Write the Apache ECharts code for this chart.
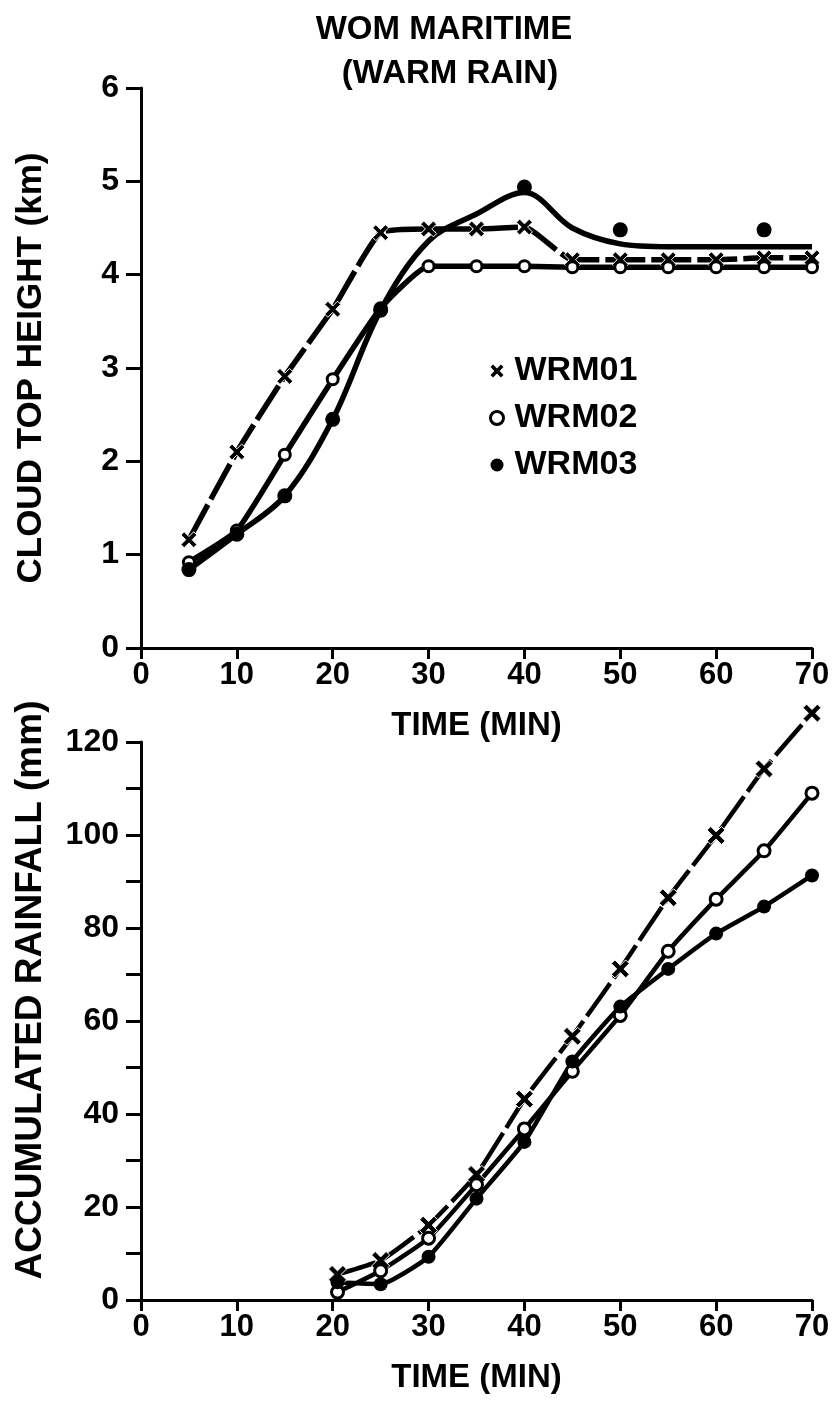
<!DOCTYPE html>
<html>
<head>
<meta charset="utf-8">
<script src="https://cdn.jsdelivr.net/npm/echarts@6/dist/echarts.min.js"></script>
<style>
html,body{margin:0;padding:0;background:#fff;}
#chart{width:837px;height:1402px;}
</style>
</head>
<body>
<div id="chart"></div>
<script>
// ---- Data ----
const seriesNames = ['WRM01', 'WRM02', 'WRM03'];

// Top panel: cloud top height (km) vs time (min)
const topTimes = [5, 10, 15, 20, 25, 30, 35, 40, 45, 50, 55, 60, 65, 70];
const wrm01Height = [1.16, 2.10, 2.91, 3.63, 4.45, 4.49, 4.49, 4.51, 4.16, 4.16, 4.16, 4.16, 4.18, 4.18];
const wrm02Height = [0.92, 1.26, 2.07, 2.88, 3.64, 4.09, 4.09, 4.09, 4.08, 4.08, 4.08, 4.08, 4.08, 4.08];
const wrm03HeightDots = [0.84, 1.22, 1.63, 2.45, 3.62, null, null, 4.94, null, 4.48, null, null, 4.48, null];
// hand-drawn fitted curve for WRM03
const wrm03CurveTimes = [5, 10, 15, 20, 25, 30, 35, 40, 45, 50, 55, 60, 65, 70];
const wrm03CurveHeight = [0.84, 1.22, 1.63, 2.45, 3.62, 4.36, 4.65, 4.88, 4.50, 4.33, 4.30, 4.30, 4.30, 4.30];

// Bottom panel: accumulated rainfall (mm) vs time (min)
const rainTimes = [20.5, 25, 30, 35, 40, 45, 50, 55, 60, 65, 70];
const wrm01Rain = [5.5, 8.5, 16.1, 27.0, 43.2, 56.7, 71.2, 86.5, 99.9, 114.2, 126.2];
const wrm02Rain = [1.7, 6.3, 13.3, 24.8, 36.8, 49.2, 61.2, 75.0, 86.2, 96.6, 109.0];
const wrm03Rain = [3.8, 3.4, 9.3, 21.8, 34.0, 51.3, 63.1, 71.2, 78.8, 84.6, 91.3];

// Axis ticks
const timeTicks = [0, 10, 20, 30, 40, 50, 60, 70];
const heightTicks = [0, 1, 2, 3, 4, 5, 6];
const rainLabelTicks = [0, 20, 40, 60, 80, 100, 120];

// ---- helpers ----
function pairs(xs, ys) {
  const out = [];
  for (let i = 0; i < xs.length; i++) if (ys[i] !== null && ys[i] !== undefined) out.push([xs[i], ys[i]]);
  return out;
}
const FONT = "'Liberation Sans', Arial, sans-serif";
const crossPath = 'path://M2,0 L5,3 L8,0 L10,2 L7,5 L10,8 L8,10 L5,7 L2,10 L0,8 L3,5 L0,2 Z';

const axisLine = { show: true, lineStyle: { color: '#000', width: 3 } };
function xAxis(gridIndex) {
  return {
    type: 'value', gridIndex, min: timeTicks[0], max: timeTicks[timeTicks.length - 1], interval: 10,
    axisLine, splitLine: { show: false },
    axisTick: { show: true, length: 11, lineStyle: { color: '#000', width: 3 } },
    axisLabel: { color: '#000', fontFamily: FONT, fontSize: 31, fontWeight: 'bold', margin: 12,
      formatter: v => timeTicks.indexOf(v) >= 0 ? String(v) : '' },
    name: 'TIME (MIN)', nameLocation: 'middle', nameGap: 61,
    nameTextStyle: { color: '#000', fontFamily: FONT, fontSize: 33, fontWeight: 'bold' }
  };
}

const option = {
  animation: false,
  backgroundColor: '#fff',
  graphic: [
    { type: 'text', x: 444, y: 13, style: { text: 'WOM MARITIME', textAlign: 'center', textVerticalAlign: 'top',
      font: "bold 33px 'Liberation Sans', Arial, sans-serif", fill: '#000' } },
    { type: 'text', x: 450, y: 57, style: { text: '(WARM RAIN)', textAlign: 'center', textVerticalAlign: 'top',
      font: "bold 33px 'Liberation Sans', Arial, sans-serif", fill: '#000' } }
  ],
  legend: {
    show: true, orient: 'vertical', left: 484, top: 349, itemGap: 13, itemWidth: 13, itemHeight: 13,
    textStyle: { color: '#000', fontFamily: FONT, fontSize: 34, fontWeight: 'bold', padding: [0, 0, 0, 6] },
    data: [
      { name: 'WRM01', icon: crossPath, itemStyle: { color: '#000', borderWidth: 0, opacity: 1 } },
      { name: 'WRM02', icon: 'circle', itemStyle: { color: '#fff', borderColor: '#000', borderWidth: 3, opacity: 1 } },
      { name: 'WRM03', icon: 'circle', itemStyle: { color: '#000', borderWidth: 0, opacity: 1 } }
    ]
  },
  grid: [
    { left: 141, right: 25, top: 88, height: 560 },
    { left: 141, right: 25, top: 742, height: 558 }
  ],
  xAxis: [xAxis(0), xAxis(1)],
  yAxis: [
    { type: 'value', gridIndex: 0, min: heightTicks[0], max: heightTicks[heightTicks.length - 1], interval: 1,
      axisLine, splitLine: { show: false },
      axisTick: { show: true, length: 15, lineStyle: { color: '#000', width: 3 } },
      axisLabel: { color: '#000', fontFamily: FONT, fontSize: 32, fontWeight: 'bold', margin: 22,
        formatter: v => heightTicks.indexOf(v) >= 0 ? String(v) : '' },
      name: 'CLOUD TOP HEIGHT (km)', nameLocation: 'middle', nameGap: 92,
      nameTextStyle: { color: '#000', fontFamily: FONT, fontSize: 35, fontWeight: 'bold' } },
    { type: 'value', gridIndex: 1, min: 0, max: 120, interval: 10,
      axisLine, splitLine: { show: false },
      axisTick: { show: true, length: 15, lineStyle: { color: '#000', width: 3 } },
      axisLabel: { color: '#000', fontFamily: FONT, fontSize: 32, fontWeight: 'bold', margin: 22,
        formatter: v => rainLabelTicks.indexOf(v) >= 0 ? String(v) : '' },
      name: 'ACCUMULATED RAINFALL (mm)', nameLocation: 'middle', nameGap: 92,
      nameTextStyle: { color: '#000', fontFamily: FONT, fontSize: 37, fontWeight: 'bold', padding: [0, 0, 0, 62] } }
  ],
  series: [
    // top panel
    { name: 'WRM01', type: 'line', xAxisIndex: 0, yAxisIndex: 0, data: pairs(topTimes, wrm01Height),
      smooth: 0.15, symbol: crossPath, symbolSize: 16, showAllSymbol: true,
      itemStyle: { color: '#000', borderColor: '#fff', borderWidth: 1 },
      lineStyle: { color: '#000', width: 5.5, type: [40, 6] }, z: 3 },
    { name: 'WRM02', type: 'line', xAxisIndex: 0, yAxisIndex: 0, data: pairs(topTimes, wrm02Height),
      smooth: 0.15, symbol: 'circle', symbolSize: 11, showAllSymbol: true,
      itemStyle: { color: '#fff', borderColor: '#000', borderWidth: 3 },
      lineStyle: { color: '#000', width: 5.5 }, z: 3 },
    { name: 'WRM03 curve', type: 'line', xAxisIndex: 0, yAxisIndex: 0, data: pairs(wrm03CurveTimes, wrm03CurveHeight),
      smooth: 0.35, symbol: 'none',
      lineStyle: { color: '#000', width: 5.5 }, z: 2 },
    { name: 'WRM03', type: 'scatter', xAxisIndex: 0, yAxisIndex: 0, data: pairs(topTimes, wrm03HeightDots),
      symbol: 'circle', symbolSize: 15, itemStyle: { color: '#000', opacity: 1 }, z: 4 },
    // bottom panel
    { name: 'WRM01', type: 'line', xAxisIndex: 1, yAxisIndex: 1, data: pairs(rainTimes, wrm01Rain),
      smooth: 0.15, symbol: crossPath, symbolSize: 18, showAllSymbol: true, clip: false,
      itemStyle: { color: '#000', borderColor: '#fff', borderWidth: 1 },
      lineStyle: { color: '#000', width: 4.5, type: [40, 6] }, z: 3 },
    { name: 'WRM02', type: 'line', xAxisIndex: 1, yAxisIndex: 1, data: pairs(rainTimes, wrm02Rain),
      smooth: 0.15, symbol: 'circle', symbolSize: 12, showAllSymbol: true, clip: false,
      itemStyle: { color: '#fff', borderColor: '#000', borderWidth: 3 },
      lineStyle: { color: '#000', width: 4.5 }, z: 3 },
    { name: 'WRM03', type: 'line', xAxisIndex: 1, yAxisIndex: 1, data: pairs(rainTimes, wrm03Rain),
      smooth: 0.15, symbol: 'circle', symbolSize: 14, showAllSymbol: true, clip: false,
      itemStyle: { color: '#000' },
      lineStyle: { color: '#000', width: 4.5 }, z: 3 }
  ]
};

const chart = echarts.init(document.getElementById('chart'), null, { renderer: 'canvas' });
chart.setOption(option);
</script>
</body>
</html>
